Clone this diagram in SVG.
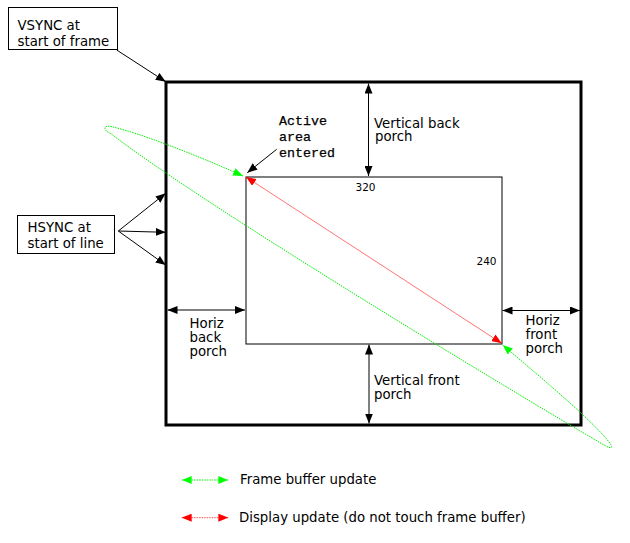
<svg xmlns="http://www.w3.org/2000/svg" width="630" height="543" viewBox="0 0 630 543">
<defs>
<style>
.t{font-family:"DejaVu Sans","Verdana",sans-serif;font-size:13.3px;fill:#000}
.n{font-family:"DejaVu Sans","Verdana",sans-serif;font-size:10.5px;fill:#000}
.m{font-family:"Liberation Mono","Courier New",monospace;font-size:13.3px;fill:#000;stroke:#000;stroke-width:0.25}
.box{fill:#fff;stroke:#000;stroke-width:1}
.blk{fill:none;stroke:#000;stroke-width:1;marker-end:url(#ab)}
.dbl{fill:none;stroke:#000;stroke-width:1;marker-start:url(#ab);marker-end:url(#ab)}
.grn{fill:none;stroke:#00ee00;stroke-width:1;stroke-dasharray:1.5 1;marker-start:url(#ag);marker-end:url(#ag)}
.red{fill:none;stroke:#ff0000;stroke-opacity:0.55;stroke-width:1;marker-start:url(#ar);marker-end:url(#ar)}
.redd{fill:none;stroke:#ff0000;stroke-opacity:0.7;stroke-width:1;stroke-dasharray:1.5 1;marker-start:url(#ar);marker-end:url(#ar)}
</style>
<marker id="ab" markerUnits="userSpaceOnUse" markerWidth="10" markerHeight="8" refX="10" refY="4" orient="auto-start-reverse"><path d="M0,0 L10,4 L0,8 z" fill="#000"/></marker>
<marker id="ag" markerUnits="userSpaceOnUse" markerWidth="10" markerHeight="8" refX="10" refY="4" orient="auto-start-reverse"><path d="M0,0 L10,4 L0,8 z" fill="#00ff00"/></marker>
<marker id="ar" markerUnits="userSpaceOnUse" markerWidth="10" markerHeight="8" refX="10" refY="4" orient="auto-start-reverse"><path d="M0,0 L10,4 L0,8 z" fill="#ff0000"/></marker>
</defs>
<rect width="630" height="543" fill="#fff"/>

<g id="frame">
<rect x="166" y="82" width="415" height="343" fill="none" stroke="#000" stroke-width="3"/>
</g>
<g id="active-area">
<rect x="246" y="177" width="256" height="167" fill="none" stroke="#000" stroke-width="1"/>
<text class="n" x="355.5" y="191">320</text>
<text class="n" x="476.5" y="265">240</text>
</g>

<g id="vsync">
<rect class="box" x="8.5" y="7.5" width="109" height="42"/>
<text class="t" x="17.5" y="30">VSYNC at</text>
<text class="t" x="17.5" y="45.5">start of frame</text>
</g>
<g id="hsync">
<rect class="box" x="17.5" y="215.5" width="97" height="38"/>
<text class="t" x="27.5" y="232">HSYNC at</text>
<text class="t" x="27.5" y="248">start of line</text>
</g>
<g id="active-label">
<text class="m" x="279" y="125">Active</text>
<text class="m" x="279" y="141">area</text>
<text class="m" x="279" y="157">entered</text>
</g>
<g id="vbp-label">
<text class="t" x="374" y="127.5">Vertical back</text>
<text class="t" x="375" y="141">porch</text>
</g>
<g id="vfp-label">
<text class="t" x="374" y="384.5">Vertical front</text>
<text class="t" x="374" y="398.5">porch</text>
</g>
<g id="hbp-label">
<text class="t" x="189.5" y="328">Horiz</text>
<text class="t" x="189.5" y="342">back</text>
<text class="t" x="189.5" y="356">porch</text>
</g>
<g id="hfp-label">
<text class="t" x="525.5" y="324.5">Horiz</text>
<text class="t" x="525.5" y="338.5">front</text>
<text class="t" x="525.5" y="352.5">porch</text>
</g>
<g id="legend">
<text class="t" x="240" y="484">Frame buffer update</text>
<text class="t" x="239" y="522">Display update (do not touch frame buffer)</text>
</g>

<g id="connectors">
<line class="blk" x1="116.7" y1="50" x2="165.7" y2="81.7"/>
<line class="blk" x1="118.3" y1="231" x2="165.7" y2="193.3"/>
<line class="blk" x1="118.3" y1="231" x2="165.7" y2="232.3"/>
<line class="blk" x1="118.3" y1="231" x2="165.7" y2="265"/>
<line class="blk" x1="276.7" y1="149.3" x2="247.3" y2="172.7"/>
<line class="dbl" x1="167.5" y1="310" x2="245" y2="310"/>
<line class="dbl" x1="502.5" y1="310.5" x2="580" y2="310.5"/>
<line class="dbl" x1="368.5" y1="83.5" x2="368.5" y2="176"/>
<line class="dbl" x1="369" y1="344.5" x2="369" y2="423.5"/>
<line class="red" x1="246" y1="177" x2="501.7" y2="343.3"/>
<path class="grn" stroke-linejoin="round" d="M243,176 C198,155.75 140,133 111,126.5 C103,124.7 103,130.5 110,133 C205,207 550,414 605,445.5 C613,450 613,447 609,442 C592,420 537.7,374.8 502.7,345"/>
<line class="grn" x1="181.7" y1="480" x2="228.3" y2="480"/>
<line class="redd" x1="181.7" y1="517.7" x2="228.3" y2="517.7"/>
</g>
</svg>
